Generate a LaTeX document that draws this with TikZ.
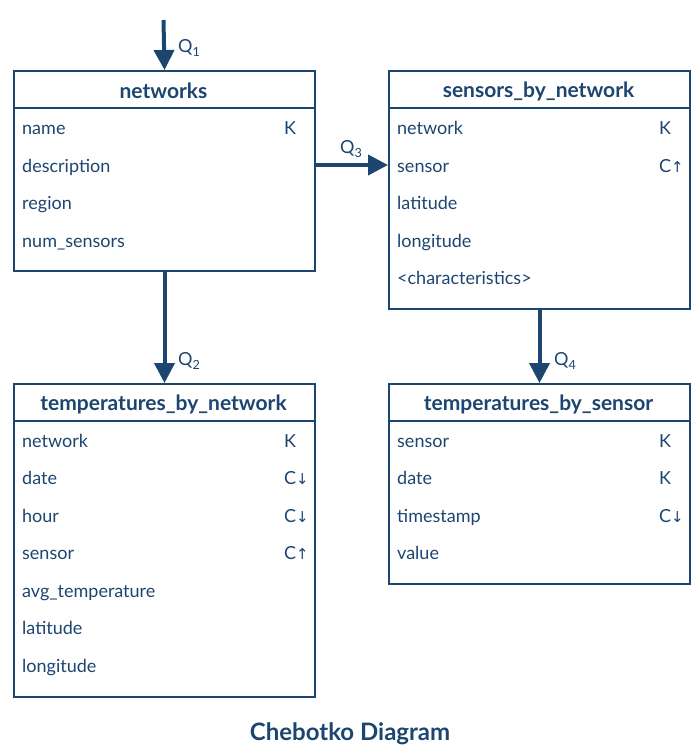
\documentclass[tikz,border=0pt]{standalone}
\usepackage{fontspec}
\setmainfont{Lato}
\newfontfamily\arrfont{DejaVu Sans}
\usetikzlibrary{arrows.meta}
\definecolor{cb}{RGB}{28,69,112}
\newcommand{\up}{{\arrfont\fontsize{15}{18}\selectfont\char"2191}}
\newcommand{\dn}{{\arrfont\fontsize{15}{18}\selectfont\char"2193}}
\tikzset{
  tbl/.style={draw=cb, line width=2pt, anchor=north west, minimum width=301pt, inner sep=0pt},
  hdr/.style={font=\fontsize{21}{24}\selectfont\bfseries, text=cb, inner sep=0pt},
  fld/.style={font=\fontsize{18}{20}\selectfont, text=cb, anchor=mid west, inner sep=0pt},
  qarrow/.style={draw=cb, line width=4pt, -{Triangle[width=20pt,length=20pt]}},
  qlab/.style={font=\fontsize{18}{20}\selectfont, text=cb, inner sep=0pt},
}
\begin{document}
\begin{tikzpicture}[x=1pt,y=-1pt]
\useasboundingbox (0,0) rectangle (700,753);
% networks
\node[tbl, minimum height=200pt] (net) at (13,70) {};
\draw[cb, line width=2pt] (13,108) -- (314,108);
\node[hdr] (neth) at (163.5,91) {networks};
\node[fld] (n1) at (22,132) {name};
\node[fld] (n1k) at (284,132) {K};
\node[fld] (n2) at (22,169.5) {description};
\node[fld] (n3) at (22,207) {region};
\node[fld] (n4) at (22,244.5) {num\_sensors};
% sensors_by_network
\node[tbl, minimum height=238pt] (sbn) at (388,70) {};
\draw[cb, line width=2pt] (388,108) -- (689,108);
\node[hdr] (sbnh) at (538.5,91) {sensors\_by\_network};
\node[fld] (s1) at (397,132) {network};
\node[fld] (s1k) at (659,132) {K};
\node[fld] (s2) at (397,169.5) {sensor};
\node[fld] (s2k) at (659,169.5) {C\up};
\node[fld] (s3) at (397,207) {latitude};
\node[fld] (s4) at (397,244.5) {longitude};
\node[fld] (s5) at (397,282) {<characteristics>};
% temperatures_by_network
\node[tbl, minimum height=313pt] (tbn) at (13,383) {};
\draw[cb, line width=2pt] (13,421) -- (314,421);
\node[hdr] (tbnh) at (163.5,404) {temperatures\_by\_network};
\node[fld] (t1) at (22,444.5) {network};
\node[fld] (t1k) at (284,444.5) {K};
\node[fld] (t2) at (22,482) {date};
\node[fld] (t2k) at (284,482) {C\dn};
\node[fld] (t3) at (22,519.5) {hour};
\node[fld] (t3k) at (284,519.5) {C\dn};
\node[fld] (t4) at (22,557) {sensor};
\node[fld] (t4k) at (284,557) {C\up};
\node[fld] (t5) at (22,594.5) {avg\_temperature};
\node[fld] (t6) at (22,632) {latitude};
\node[fld] (t7) at (22,669.5) {longitude};
% temperatures_by_sensor
\node[tbl, minimum height=200pt] (tbs) at (388,383) {};
\draw[cb, line width=2pt] (388,421) -- (689,421);
\node[hdr] (tbsh) at (538.5,404) {temperatures\_by\_sensor};
\node[fld] (u1) at (397,444.5) {sensor};
\node[fld] (u1k) at (659,444.5) {K};
\node[fld] (u2) at (397,482) {date};
\node[fld] (u2k) at (659,482) {K};
\node[fld] (u3) at (397,519.5) {timestamp};
\node[fld] (u3k) at (659,519.5) {C\dn};
\node[fld] (u4) at (397,557) {value};
% arrows
\coordinate (q1s) at (163.5,20);
\coordinate (q3y) at (0,165);
\draw[qarrow] (q1s) -- (net.north);
\node[qlab, anchor=west] (q1) at (178,48) {Q\textsubscript{1}};
\draw[qarrow] (net.south) -- (tbn.north);
\node[qlab, anchor=west] (q2) at (178,361) {Q\textsubscript{2}};
\draw[qarrow] (net.east |- q3y) -- (sbn.west |- q3y);
\node[qlab, anchor=west] (q3) at (340,149) {Q\textsubscript{3}};
\draw[qarrow] (sbn.south) -- (tbs.north);
\node[qlab, anchor=west] (q4) at (554,361) {Q\textsubscript{4}};
% title
\node[font=\fontsize{24}{28}\selectfont\bfseries, text=cb, inner sep=0pt] (title) at (350,734) {Chebotko Diagram};
\end{tikzpicture}
\end{document}
